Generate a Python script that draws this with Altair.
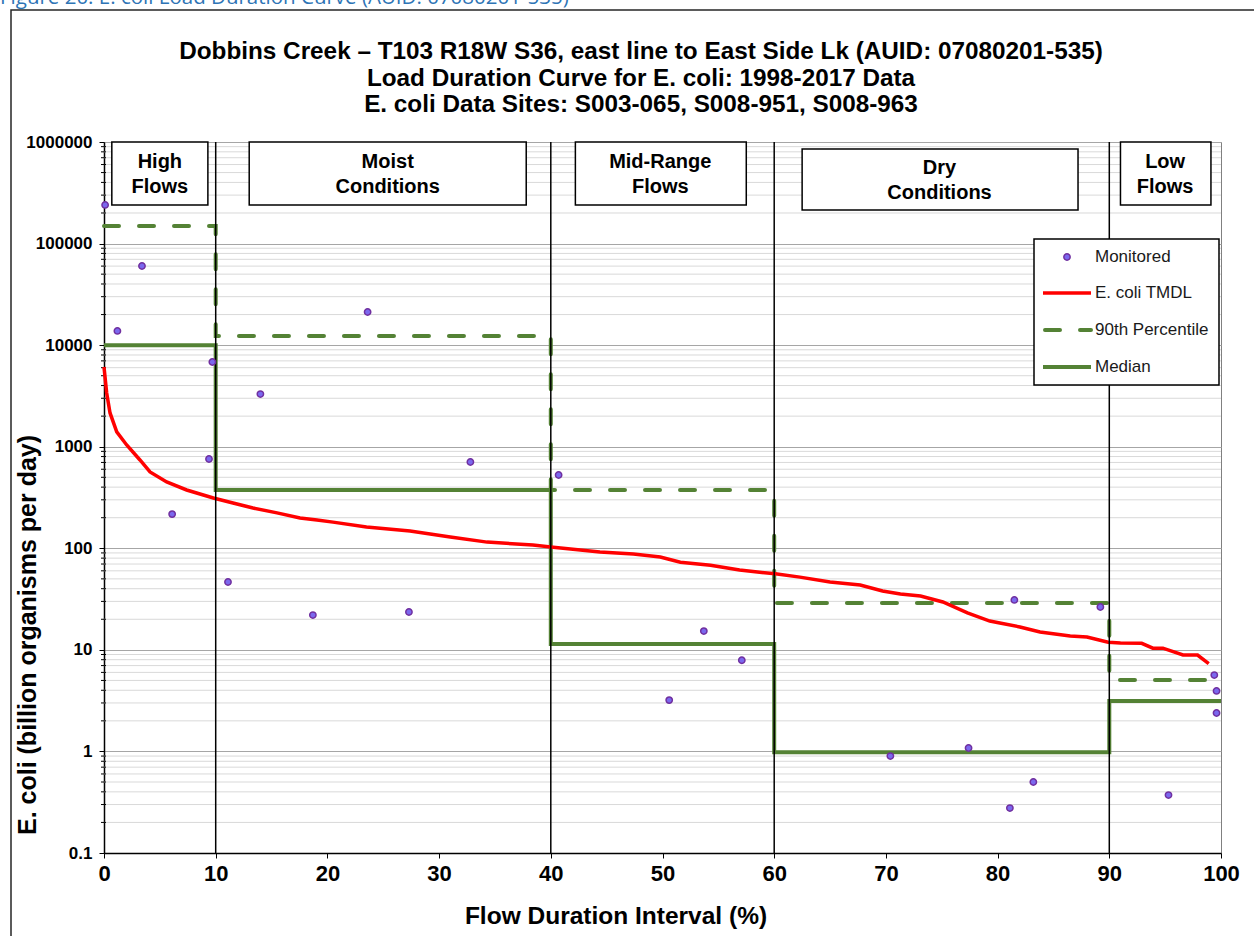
import altair as alt
import pandas as pd

FONT = "Liberation Sans, Arial, Helvetica, sans-serif"
GREEN = "#548235"
RED = "#FF0000"
PURPLE_FILL = "#7B68EE"
PURPLE_EDGE = "#7030A0"

# ---- flow zones -----------------------------------------------------------
zone_labels = ["High\nFlows", "Moist\nConditions", "Mid-Range\nFlows", "Dry\nConditions", "Low\nFlows"]
zone_start = [0, 10, 40, 60, 90]
zone_end = [10, 40, 60, 90, 100]
zone_median = [10000, 375, 11.4, 0.98, 3.13]
zone_p90 = [149000, 12300, 375, 28.9, 5.05]

# label boxes at the top of the plot (x in %, y in load units)
box_x1 = [0.7, 13.0, 42.2, 62.5, 91.0]
box_x2 = [9.3, 37.8, 57.5, 87.2, 99.1]
box_y1 = [240000, 240000, 240000, 214000, 240000]
box_y2 = [1000000, 1000000, 1000000, 853000, 1000000]
box_text_y = [635000, 635000, 635000, 555000, 635000]   # first text line
box_text_x = [5.0, 25.4, 49.8, 74.8, 95.0]

# ---- E. coli TMDL curve -----------------------------------------------------
tmdl_x = [0.0, 0.24, 0.54, 1.14, 2.03, 3.22, 4.12, 5.61, 7.40, 9.79, 11.55, 13.34,
          15.49, 17.55, 19.07, 20.5, 23.5, 27.4, 31.0, 34.3, 38.4, 40.0, 44.4, 47.4,
          49.8, 51.6, 54.3, 56.9, 58.7, 60.1, 62.3, 65.0, 67.7, 69.7, 71.3, 73.1,
          75.1, 77.3, 79.3, 80.2, 82.0, 83.8, 86.5, 88.0, 89.9, 91.0, 92.9, 93.9,
          94.8, 96.6, 97.9, 98.9]
tmdl_y = [6100, 3380, 2150, 1400, 1040, 740, 564, 450, 375, 313, 279, 249,
          223, 199, 190, 181, 162, 148, 129, 115, 108, 103, 92, 88,
          82, 73, 68, 61, 58, 56, 52, 46.5, 43.5, 38, 35.5, 33.9,
          29.6, 23.1, 19.2, 18.4, 16.8, 15.0, 13.7, 13.4, 11.9, 11.7, 11.6, 10.4,
          10.4, 8.9, 8.9, 7.3]

# ---- monitored loads --------------------------------------------------------
mon_x = [0.1, 1.2, 3.4, 6.1, 9.4, 9.7, 11.1, 14.0, 18.7, 23.6, 27.3, 32.8, 40.7,
         50.6, 53.7, 57.1, 70.4, 77.4, 81.1, 81.5, 83.2, 89.2, 95.3, 99.4, 99.6, 99.6]
mon_y = [240000, 13800, 60100, 217, 757, 6820, 46.6, 3300, 22, 21200, 23.6, 707, 527,
         3.2, 15.3, 7.9, 0.90, 1.08, 0.277, 31, 0.5, 26.4, 0.372, 5.65, 3.94, 2.39]

decades = [0.1, 1, 10, 100, 1000, 10000, 100000, 1000000]
minor_vals = [d * k for d in decades[:-1] for k in range(2, 10)]

title_lines = [
    "Dobbins Creek \u2013 T103 R18W S36, east line to East Side Lk (AUID: 07080201-535)",
    "Load Duration Curve for E. coli: 1998-2017 Data",
    "E. coli Data Sites: S003-065, S008-951, S008-963",
]
legend_labels = ["Monitored", "E. coli TMDL", "90th Percentile", "Median"]

# ---- tables -----------------------------------------------------------------
def step_table(values):
    rows = []
    for i, (a, b, v) in enumerate(zip(zone_start, zone_end, values)):
        rows.append({"x": a, "y": v, "o": 2 * i})
        rows.append({"x": b, "y": v, "o": 2 * i + 1})
    return pd.DataFrame(rows)

median_df = step_table(zone_median)
p90_df = step_table(zone_p90)
tmdl_df = pd.DataFrame({"x": tmdl_x, "y": tmdl_y})
mon_df = pd.DataFrame({"x": mon_x, "y": mon_y})
bounds_df = pd.DataFrame({"x": zone_start[1:]})
minor_df = pd.DataFrame({"y": minor_vals})
box_df = pd.DataFrame({"x1": box_x1, "x2": box_x2, "y1": box_y1, "y2": box_y2,
                       "tx": box_text_x, "ty": box_text_y, "label": zone_labels})
one = pd.DataFrame({"k": [0]})

xscale = alt.Scale(domain=[0, 100], nice=False)
yscale = alt.Scale(type="log", domain=[0.1, 1000000], nice=False)

x_axis = alt.Axis(values=list(range(0, 101, 10)), format="d", title=None, grid=False,
                  labelFont=FONT, labelFontSize=22, labelFontWeight="bold", labelColor="black",
                  labelFlush=False, tickColor="black", tickSize=5, labelPadding=5,
                  domainColor="black", domainWidth=1.5)
y_axis = alt.Axis(values=decades, format=".1~f", title=None, grid=True,
                  gridColor="#a6a6a6", gridWidth=1,
                  labelFont=FONT, labelFontSize=17, labelFontWeight="bold", labelColor="black",
                  labelFlush=False, tickColor="black", tickSize=5, labelPadding=7,
                  domainColor="black", domainWidth=1.5)

X = lambda f: alt.X(f, type="quantitative", scale=xscale, axis=x_axis)
Y = lambda f: alt.Y(f, type="quantitative", scale=yscale, axis=y_axis)

# minor horizontal gridlines and minor ticks
minor_grid = alt.Chart(minor_df).mark_rule(color="#d9d9d9", strokeWidth=1).encode(y=Y("y"))
minor_ticks = alt.Chart(minor_df).mark_rule(color="black", strokeWidth=1).encode(
    y=Y("y"), x=alt.value(-3), x2=alt.value(2))

p90_line = alt.Chart(p90_df).mark_line(
    color=GREEN, strokeWidth=4, strokeDash=[15, 20], strokeCap="round"
).encode(x=X("x"), y=Y("y"), order="o:Q")

median_line = alt.Chart(median_df).mark_line(color=GREEN, strokeWidth=4).encode(
    x=X("x"), y=Y("y"), order="o:Q")

tmdl_line = alt.Chart(tmdl_df).mark_line(color=RED, strokeWidth=3.5).encode(
    x=X("x"), y=Y("y"))

zone_bounds = alt.Chart(bounds_df).mark_rule(color="black", strokeWidth=1.5).encode(x=X("x"))

monitored = alt.Chart(mon_df).mark_circle(
    size=40, color=PURPLE_FILL, stroke=PURPLE_EDGE, strokeWidth=1.5, opacity=1
).encode(x=X("x"), y=Y("y"))

boxes = alt.Chart(box_df).mark_rect(fill="white", stroke="black", strokeWidth=1.5).encode(
    x=X("x1"), x2="x2", y=Y("y1"), y2="y2")
box_text = alt.Chart(box_df).mark_text(
    font=FONT, fontSize=20, fontWeight="bold", color="black", lineBreak="\n",
    lineHeight=25, align="center", baseline="middle"
).encode(x=X("tx"), y=Y("ty"), text="label:N")

# legend
leg_box = alt.Chart(one).mark_rect(fill="white", stroke="black", strokeWidth=1.5).encode(
    x=alt.value(930), x2=alt.value(1115), y=alt.value(97), y2=alt.value(243))
leg_point = alt.Chart(one).mark_circle(
    size=40, color=PURPLE_FILL, stroke=PURPLE_EDGE, strokeWidth=1.5, opacity=1
).encode(x=alt.value(963), y=alt.value(115))
leg_red = alt.Chart(one).mark_rule(color=RED, strokeWidth=3.5).encode(
    x=alt.value(939), x2=alt.value(987), y=alt.value(151))
leg_p90 = alt.Chart(one).mark_rule(
    color=GREEN, strokeWidth=4, strokeDash=[15, 20], strokeCap="round"
).encode(x=alt.value(941), x2=alt.value(987), y=alt.value(188))
leg_med = alt.Chart(one).mark_rule(color=GREEN, strokeWidth=4).encode(
    x=alt.value(939), x2=alt.value(987), y=alt.value(225))
leg_texts = [
    alt.Chart(one).mark_text(
        text=label, font=FONT, fontSize=17, color="#1a1a1a", align="left", baseline="middle"
    ).encode(x=alt.value(991), y=alt.value(py))
    for label, py in zip(legend_labels, [115, 151, 188, 225])
]

# titles and frame
frame = alt.Chart(one).mark_rect(fill=None, stroke="#262626", strokeWidth=1.5).encode(
    x=alt.value(-93), x2=alt.value(1250), y=alt.value(-132), y2=alt.value(900))
caption = alt.Chart(one).mark_text(
    text="Figure 20: E. coli Load Duration Curve (AUID: 07080201-535)",
    font="Open Sans, Liberation Sans, sans-serif", fontSize=20.5, color="#2E74B5",
    align="left", baseline="alphabetic"
).encode(x=alt.value(-104), y=alt.value(-138))
main_title = alt.Chart(one).mark_text(
    text=title_lines, font=FONT, fontSize=24.3, fontWeight="bold", color="black",
    lineHeight=26.5, align="center", baseline="middle"
).encode(x=alt.value(537), y=alt.value(-90))
x_title = alt.Chart(one).mark_text(
    text="Flow Duration Interval (%)", font=FONT, fontSize=24.5, fontWeight="bold",
    color="black", align="center", baseline="middle"
).encode(x=alt.value(512), y=alt.value(775))
y_title = alt.Chart(one).mark_text(
    text="E. coli (billion organisms per day)", font=FONT, fontSize=25, fontWeight="bold",
    color="black", align="center", baseline="middle", angle=270
).encode(x=alt.value(-76), y=alt.value(493))

chart = alt.layer(
    frame, minor_grid, minor_ticks, p90_line, median_line, tmdl_line, zone_bounds,
    monitored, boxes, box_text, leg_box, leg_point, leg_red, leg_p90, leg_med, *leg_texts,
    caption, main_title, x_title, y_title,
).properties(
    width=1117, height=711,
    autosize=alt.AutoSizeParams(type="none"),
    padding={"left": 104, "top": 142, "right": 33, "bottom": 83},
    background="white",
).configure_view(stroke="#808080", strokeWidth=1)

chart.save("out.html", embed_options={"renderer": "svg", "actions": False})
